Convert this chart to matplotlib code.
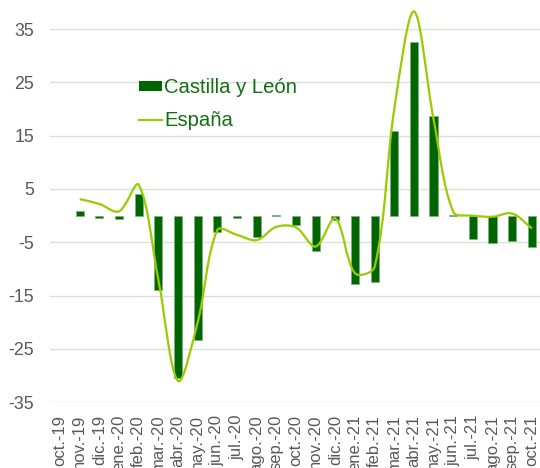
import numpy as np
import matplotlib
matplotlib.use("Agg")
import matplotlib.pyplot as plt
from matplotlib.path import Path
from matplotlib.patches import PathPatch
from matplotlib.lines import Line2D
from matplotlib.patches import Patch

plt.rcParams['font.family'] = ['Liberation Sans', 'DejaVu Sans']

categories = ['oct.-19', 'nov.-19', 'dic.-19', 'ene.-20', 'feb.-20', 'mar.-20',
              'abr.-20', 'may.-20', 'jun.-20', 'jul.-20', 'ago.-20', 'sep.-20',
              'oct.-20', 'nov.-20', 'dic.-20', 'ene.-21', 'feb.-21', 'mar.-21',
              'abr.-21', 'may.-21', 'jun.-21', 'jul.-21', 'ago.-21', 'sep.-21',
              'oct.-21']
castilla_leon = [np.nan, 0.8, -0.4, -0.6, 4.1, -13.9, -30.4, -23.4, -3.0, -0.4,
                 -4.0, 0.05, -1.7, -6.7, -0.8, -12.9, -12.4, 15.9, 32.5, 18.6,
                 0.1, -4.4, -5.1, -4.8, -5.8]
espana = [np.nan, 3.1, 2.2, 0.8, 5.8, -12.0, -31.0, -20.0, -2.7, -3.6,
          -4.6, -2.1, -2.2, -5.8, -0.5, -10.8, -9.6, 20.0, 38.3, 18.0,
          0.7, 0.0, -0.2, 0.4, -2.4]
yticks = [35, 25, 15, 5, -5, -15, -25, -35]

W, H = 540, 468
fig = plt.figure(figsize=(W / 100, H / 100), dpi=100)
ax = fig.add_axes([50 / W, 1 - 402.3 / H, 490 / W, (402.3 - 29) / H])

x = np.arange(len(categories))
ax.bar(x, castilla_leon, width=0.42, color='#006600', edgecolor='#7fae7f',
       linewidth=0.5, zorder=2)

ax.set_xlim(-0.51, 24.41)
ax.set_ylim(-35, 35)

# Excel-style smoothed line: cubic Bezier through the data points,
# control arms scaled by on-screen segment lengths
xs = [xi for xi, v in zip(x, espana) if not np.isnan(v)]
ys = [v for v in espana if not np.isnan(v)]
data_pts = np.column_stack([xs, ys]).astype(float)
fig.canvas.draw()
pts = ax.transData.transform(data_pts)
n = len(pts)
t = 1.0 / 3.0
verts = [tuple(pts[0])]
codes = [Path.MOVETO]
for i in range(n - 1):
    p0 = pts[i - 1] if i > 0 else pts[i]
    p1 = pts[i]
    p2 = pts[i + 1]
    p3 = pts[i + 2] if i + 2 < n else pts[i + 1]
    d01 = np.hypot(*(p1 - p0))
    d12 = np.hypot(*(p2 - p1))
    d23 = np.hypot(*(p3 - p2))
    f1 = d12 / (d01 + d12) if d01 + d12 > 0 else 0
    f2 = d12 / (d12 + d23) if d12 + d23 > 0 else 0
    c1 = p1 + (p2 - p0) * t * f1
    c2 = p2 - (p3 - p1) * t * f2
    verts += [tuple(c1), tuple(c2), tuple(p2)]
    codes += [Path.CURVE4] * 3
verts = ax.transData.inverted().transform(np.array(verts))
path = Path(verts, codes)
ax.add_patch(PathPatch(path, facecolor='none', edgecolor='#99cc00',
                       linewidth=1.6, zorder=3, clip_on=False))

ax.set_yticks(yticks)
ax.set_yticklabels([str(v) for v in yticks])
ax.set_xticks(x)
ax.set_xticklabels(categories, rotation=90)
ax.tick_params(axis='y', length=0, pad=11.5, labelsize=12.8, labelcolor='#595959')
ax.tick_params(axis='x', length=0, pad=9, labelsize=12, labelcolor='#595959')
for s in ax.spines.values():
    s.set_visible(False)
ax.grid(axis='y', color='#d6e4d6', linewidth=1.0, zorder=0)
ax.set_axisbelow(True)

handles = [Patch(facecolor='#006600', edgecolor='none'),
           Line2D([0], [0], color='#99cc00', linewidth=1.6)]
leg = fig.legend(handles, ['Castilla y León', 'España'],
                 loc='upper left', bbox_to_anchor=(139 / W, 1 - 78 / H),
                 frameon=False, fontsize=14.6, handlelength=1.15,
                 handleheight=0.4, handletextpad=0.08, labelspacing=0.68,
                 borderpad=0, borderaxespad=0)
for tx in leg.get_texts():
    tx.set_color('#127012')

fig.savefig('out.png', dpi=100)
